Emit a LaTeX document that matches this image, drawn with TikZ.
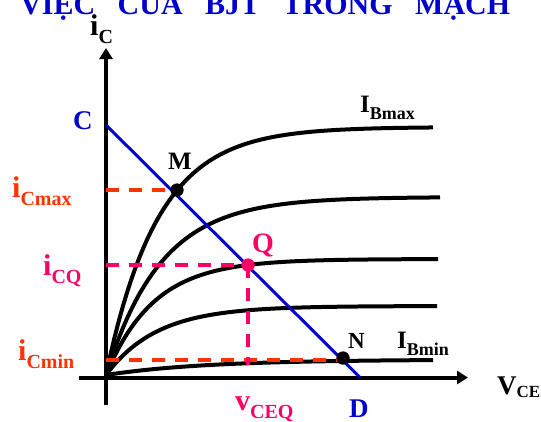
\documentclass[tikz,border=0pt]{standalone}
\usepackage{fontspec}
\setmainfont{Liberation Serif}
\usetikzlibrary{arrows.meta}
\definecolor{cblue}{HTML}{0000CC}
\definecolor{cred}{HTML}{FF3300}
\definecolor{cpink}{HTML}{FF0066}
\newcommand\fsz[1]{\fontsize{#1}{#1}\selectfont}
\newcommand\withsub[2]{#1\raisebox{-8pt}{\fsz{20}#2}}
\newcommand\smallsub[2]{#1\raisebox{-7pt}{\fsz{18}#2}}
\tikzset{
  axis/.style={line width=4pt, -{Triangle[length=11pt, width=13pt]}},
  curve/.style={line width=4pt},
  loadline/.style={draw=cblue, line width=3pt},
  guide/.style={draw=#1, line width=3.5pt, dash pattern=on 13pt off 10pt},
  dot/.style={circle, fill=#1, inner sep=0pt, minimum size=13pt},
  lbl/.style={inner sep=0pt, anchor=base west, font=\bfseries\fsz{30}},
  pt/.style={inner sep=0pt, anchor=base west, font=\bfseries\fsz{25}},
}

\begin{document}
\begin{tikzpicture}[x=1pt, y=-1pt]
  \useasboundingbox (0,0) rectangle (541,421);
  \clip (0,0) rectangle (541,421);
  % title, cut off at the top
  \node[lbl, text=cblue] (title) at (20,14) {VIỆC\enspace{} CỦA\enspace{} BJT\enspace{} TRONG\enspace{} MẠCH};
  % axes
  \coordinate (yfoot) at (106,405);
  \coordinate (ytop) at (106,48);
  \coordinate (xfoot) at (79,377.5);
  \coordinate (xtip) at (468,377.5);
  \draw[axis] (yfoot) -- (ytop);
  \draw[axis] (xfoot) -- (xtip);
  \node[lbl] (ic) at (90,35) {\withsub{i}{C}};
  \node[pt, font=\bfseries\fsz{27}] (vce) at (497,394) {V\raisebox{-3pt}{\fsz{17}CE}};
  % output characteristics, one per base current
  \draw[curve] plot[domain=0:327, samples=80] ({\x+106}, {375-248*(1-exp(-\x/52))});
  \draw[curve] plot[domain=0:334, samples=80] ({\x+106}, {375-178*(1-exp(-\x/55))});
  \draw[curve] plot[domain=0:332, samples=80] ({\x+106}, {375-116*(1-exp(-\x/48))});
  \draw[curve] plot[domain=0:331, samples=80] ({\x+106}, {375-69*(1-exp(-\x/51))});
  \draw[curve] plot[domain=0:327, samples=60] ({\x+106}, {375-15.5*(1-exp(-\x/100))});
  \node[pt] (ibmax) at (360,112) {\smallsub{I}{Bmax}};
  \node[pt] (ibmin) at (397,348) {\smallsub{I}{Bmin}};
  % load line C--D
  \coordinate (ptC) at (106,125);
  \coordinate (ptD) at (360,377.5);
  \draw[loadline] (ptC) -- (ptD);
  \node[lbl, text=cblue, font=\bfseries\fsz{27}] (lblC) at (73,129) {C};
  \node[lbl, text=cblue, font=\bfseries\fsz{27}] (lblD) at (349,417) {D};
  % operating points
  \coordinate (icmax) at (106,190);
  \coordinate (icq) at (106,265);
  \coordinate (icmin) at (106,360);
  \coordinate (vceq) at (248,365);
  \node[dot=black] (M) at (177,190) {};
  \node[dot=cpink] (Q) at (248,265) {};
  \node[dot=black] (N) at (343,358) {};
  \draw[guide=cred] (icmax) -- (M.center);
  \draw[guide=cred] (icmin) -- (icmin -| N.center);
  \draw[guide=cpink] (icq) -- (Q.center);
  \draw[guide=cpink] (Q.center) -- (vceq);
  \node[dot=black] at (M) {};
  \node[dot=cpink] at (Q) {};
  \node[dot=black] at (N) {};
  \node[pt] (lblM) at (168,169) {M};
  \node[pt, font=\bfseries\fsz{23}] (lblN) at (348,348) {N};
  \node[lbl, text=cpink, font=\bfseries\fsz{28}] (lblQ) at (252,252) {Q};
  \node[lbl, text=cred] (lmax) at (12,197) {\withsub{i}{Cmax}};
  \node[lbl, text=cpink] (lq) at (43,275) {\withsub{i}{CQ}};
  \node[lbl, text=cred] (lmin) at (18,360) {\withsub{i}{Cmin}};
  \node[lbl, text=cpink] (lvceq) at (235,410) {\withsub{v}{CEQ}};
\end{tikzpicture}
\end{document}
